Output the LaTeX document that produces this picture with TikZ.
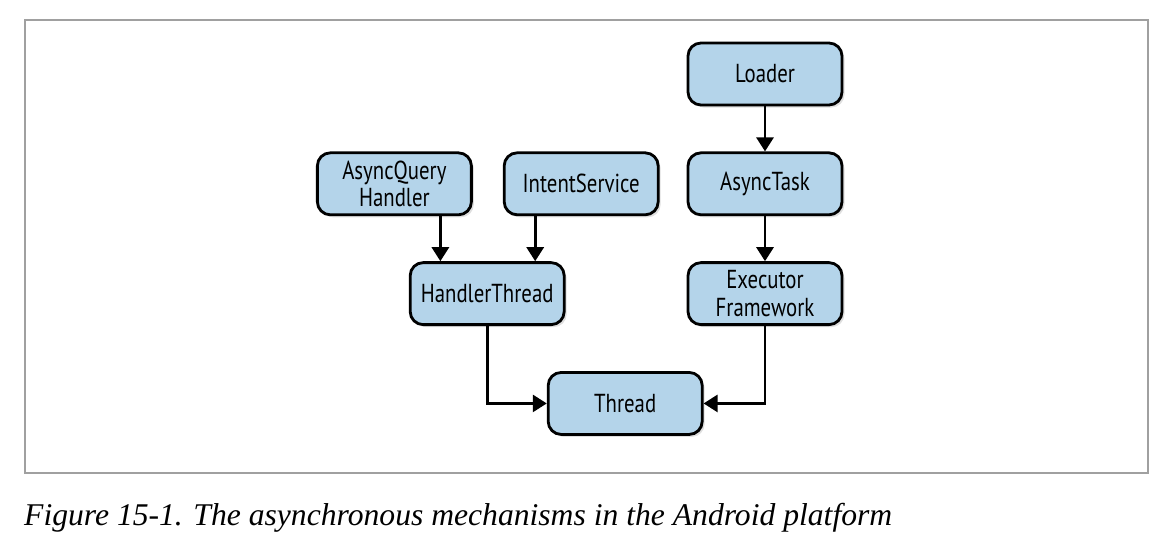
\documentclass[tikz,border=0pt]{standalone}
\usepackage{fontspec}
\newfontfamily\boxfont[FakeStretch=0.8]{PT Sans}
\newfontfamily\capfont{Liberation Serif}
\definecolor{boxblue}{RGB}{180,212,234}
\definecolor{framegray}{RGB}{160,160,160}
\usetikzlibrary{positioning, arrows.meta, shadows}
\tikzset{
  mech/.style={draw, line width=1.6pt, rounded corners=0.26cm, fill=boxblue,
    minimum width=3.08cm, minimum height=1.24cm, align=center, inner sep=0pt,
    font=\boxfont\fontsize{14.8}{15.5}\selectfont,
    drop shadow={opacity=0.25, shadow xshift=0.05cm, shadow yshift=-0.05cm}},
  link/.style={line width=1.6pt, -{Triangle[length=0.28cm, width=0.34cm]}}
}
\begin{document}
\begin{tikzpicture}
  \useasboundingbox (0,0) rectangle (23.32,-10.96);
  \draw [framegray, line width=0.6pt] (0.5,-0.4) rectangle (22.96,-9.46);

  \node [mech] (loader) at (15.3,-1.48) {Loader};
  \node [mech, below=0.9cm of loader] (asynctask) {AsyncTask};
  \node [mech, below=0.9cm of asynctask] (executor) {Executor\\Framework};
  \node [mech, left=0.54cm of asynctask] (intentservice) {IntentService};
  \node [mech, left=0.6cm of intentservice] (asyncquery) {AsyncQuery\\Handler};
  \node [mech, below=0.9cm of intentservice, xshift=-1.88cm] (handlerthread) {HandlerThread};
  \node [mech, below=0.9cm of handlerthread, xshift=2.76cm] (thread) {Thread};

  \coordinate (aq) at ([xshift=0.92cm]asyncquery.south);
  \coordinate (is) at ([xshift=-0.92cm]intentservice.south);

  % arrows
  \draw [link] (loader) -- (asynctask);
  \draw [link] (asynctask) -- (executor);
  \draw [link] (aq) -- (aq |- handlerthread.north);
  \draw [link] (is) -- (is |- handlerthread.north);
  \draw [link] (handlerthread.south) |- (thread.west);
  \draw [link] (executor.south) |- (thread.east);

  \node [anchor=base west, font=\capfont\itshape\fontsize{18}{20}\selectfont] (caption)
    at (0.36,-10.5) {Figure 15-1. The asynchronous mechanisms in the Android platform};
\end{tikzpicture}
\end{document}
